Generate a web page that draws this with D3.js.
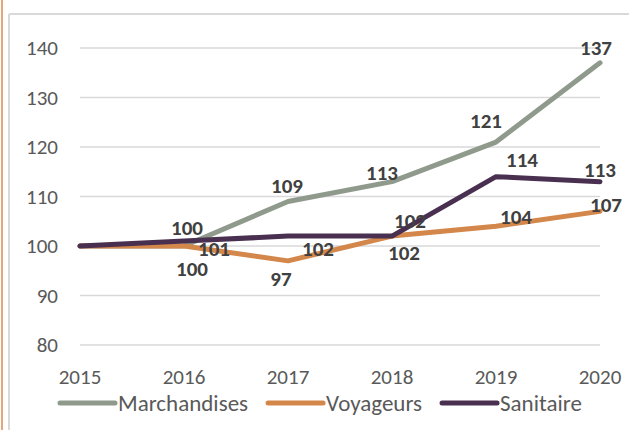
<!DOCTYPE html>
<html lang="fr">
<head>
	<meta charset="utf-8">
	<title>Indices 2015-2020</title>
	<script src="https://cdn.jsdelivr.net/npm/d3@7"></script>
	<style>
		body { margin: 0; background: #fff; font-family: Carlito, Lato, sans-serif; }
		.tick-label { fill: #595959; font-size: 21px; }
		.val-label { fill: #404040; font-size: 21px; font-weight: bold; }
		.legend-label { fill: #595959; font-size: 23px; }
	</style>
</head>
<body>
<script>
// data
var years = ["2015", "2016", "2017", "2018", "2019", "2020"];
var yTicks = [80, 90, 100, 110, 120, 130, 140];
var seriesNames = ["Marchandises", "Voyageurs", "Sanitaire"];
var marchandises = [100, 100, 109, 113, 121, 137];
var voyageurs = [100, 100, 97, 102, 104, 107];
var sanitaire = [100, 101, 102, 102, 114, 113];

// label nudges (dx, dy from the point), null = no label
var labelPos = [
	[null, [3, -11], [-1, -8], [-10, -2], [-10, -14], [-4, -8]],
	[null, [8, 30], [-7, 25], [12, 24], [20, -2], [6, 1]],
	[null, [30, 15], [30, 20], [18, -8], [26, -10], [0, -5]]
];
var colors = ["#8f9a8c", "#d4874b", "#4a3050"];

var width = 629, height = 430;

var svg = d3.select("body").append("svg")
	.attr("width", width)
	.attr("height", height);

// frame lines
svg.append("line").attr("x1", 2).attr("x2", 2).attr("y1", 0).attr("y2", height)
	.attr("stroke", "#e3a779").attr("stroke-width", 2);
svg.append("line").attr("x1", 9).attr("x2", 9).attr("y1", 14).attr("y2", height)
	.attr("stroke", "#d9d9d9").attr("stroke-width", 2);
svg.append("line").attr("x1", 9).attr("x2", width).attr("y1", 14).attr("y2", 14)
	.attr("stroke", "#d9d9d9").attr("stroke-width", 2);

var x = d3.scalePoint().domain(years).range([80, 600]);
var y = d3.scaleLinear().domain([80, 140]).range([345, 48]);

// gridlines
svg.append("g").selectAll("line")
	.data(yTicks)
	.enter().append("line")
	.attr("x1", 80).attr("x2", 600)
	.attr("y1", function(d) { return y(d); })
	.attr("y2", function(d) { return y(d); })
	.attr("stroke", "#d9d9d9")
	.attr("stroke-width", 1.5);

// y axis labels
svg.append("g").selectAll("text")
	.data(yTicks)
	.enter().append("text")
	.attr("class", "tick-label")
	.attr("x", 58)
	.attr("y", function(d) { return y(d); })
	.attr("dy", "0.35em")
	.attr("text-anchor", "end")
	.text(function(d) { return d; });

// x axis labels
svg.append("g").selectAll("text")
	.data(years)
	.enter().append("text")
	.attr("class", "tick-label")
	.attr("x", function(d) { return x(d); })
	.attr("y", 384)
	.attr("text-anchor", "middle")
	.text(function(d) { return d; });

var series = [marchandises, voyageurs, sanitaire];

var line = d3.line()
	.x(function(d, i) { return x(years[i]); })
	.y(function(d) { return y(d); });

svg.append("g").selectAll("path")
	.data(series)
	.enter().append("path")
	.attr("d", line)
	.attr("fill", "none")
	.attr("stroke", function(d, i) { return colors[i]; })
	.attr("stroke-width", 5)
	.attr("stroke-linejoin", "round")
	.attr("stroke-linecap", "round");

// value labels
var labels = svg.append("g");
series.forEach(function(vals, s) {
	vals.forEach(function(v, i) {
		var p = labelPos[s][i];
		if (!p) return;
		labels.append("text")
			.attr("class", "val-label")
			.attr("x", x(years[i]) + p[0])
			.attr("y", y(v) + p[1])
			.attr("text-anchor", "middle")
			.text(v);
	});
});

// legend
var legend = svg.append("g");
var lx = 60;
seriesNames.forEach(function(name, i) {
	legend.append("line")
		.attr("x1", lx).attr("x2", lx + 55)
		.attr("y1", 403).attr("y2", 403)
		.attr("stroke", colors[i])
		.attr("stroke-width", 5)
		.attr("stroke-linecap", "round");
	var t = legend.append("text")
		.attr("class", "legend-label")
		.attr("x", lx + 58)
		.attr("y", 411)
		.text(name);
	lx += 58 + t.node().getComputedTextLength() + 20;
});
</script>
</body>
</html>
